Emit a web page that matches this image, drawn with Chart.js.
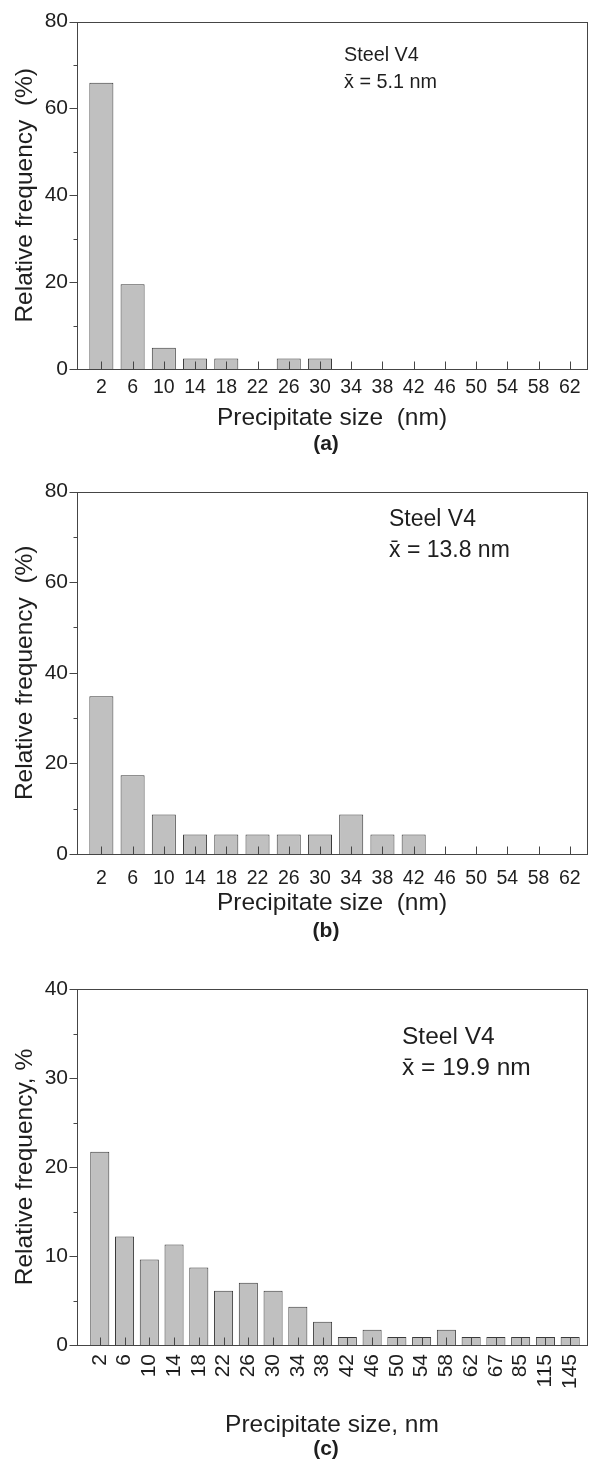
<!DOCTYPE html>
<html>
<head>
<meta charset="utf-8">
<script src="https://cdn.jsdelivr.net/npm/chart.js@4.4.1/dist/chart.umd.min.js"></script>
<style>
  body { margin: 0; background: #fff; }
  #page { position: relative; width: 593px; height: 1460px; overflow: hidden; font-family: 'Liberation Sans', Arial, sans-serif; color: #1e1e1e; }
  .panel { position: absolute; left: 0; width: 593px; }
  .tag { position: absolute; width: 100px; text-align: center; font-weight: bold; font-size: 21px; line-height: 22px; }
</style>
</head>
<body>
<div id="page">
  <div class="panel" style="top:0;height:440px"><canvas id="chartA"></canvas></div>
  <div class="tag" style="left:276px;top:432px">(a)</div>
  <div class="panel" style="top:470px;height:450px"><canvas id="chartB"></canvas></div>
  <div class="tag" style="left:276px;top:919px">(b)</div>
  <div class="panel" style="top:960px;height:480px"><canvas id="chartC"></canvas></div>
  <div class="tag" style="left:276px;top:1437px">(c)</div>
</div>
<script>
// --- data ---
const sizesAB = ['2', '6', '10', '14', '18', '22', '26', '30', '34', '38', '42', '46', '50', '54', '58', '62'];
const freqA = [65.9, 19.5, 4.9, 2.4, 2.4, 0, 2.4, 2.4, 0, 0, 0, 0, 0, 0, 0, 0];
const freqB = [34.8, 17.4, 8.7, 4.3, 4.3, 4.3, 4.3, 4.3, 8.7, 4.3, 4.3, 0, 0, 0, 0, 0];
const sizesC = ['2', '6', '10', '14', '18', '22', '26', '30', '34', '38', '42', '46', '50', '54', '58', '62', '67', '85', '115', '145'];
const freqC = [21.7, 12.2, 9.6, 11.3, 8.7, 6.1, 7.0, 6.1, 4.3, 2.6, 0.9, 1.7, 0.9, 0.9, 1.7, 0.9, 0.9, 0.9, 0.9, 0.9];

const FONT = "'Liberation Sans', Arial, sans-serif";
const INK = '#1e1e1e';
const AXIS = '#454545';

// frame box + tick marks (y outward, x inward)
const frameTicks = {
    id: 'frameTicks',
    afterDatasetsDraw(chart, args, opts) {
        const { ctx, chartArea: a, scales: { x, y } } = chart;
        ctx.save();
        ctx.strokeStyle = AXIS;
        ctx.lineWidth = 1;
        const l = Math.round(a.left) + 0.5, t = Math.round(a.top) + 0.5;
        const r = Math.round(a.right) + 0.5, b = Math.round(a.bottom) + 0.5;
        ctx.strokeRect(l, t, r - l, b - t);
        ctx.beginPath();
        y.ticks.forEach(tk => {
            const py = Math.round(y.getPixelForValue(tk.value)) + 0.5;
            const len = tk.value % opts.major === 0 ? 8 : 4;
            ctx.moveTo(l - len, py);
            ctx.lineTo(l, py);
        });
        x.ticks.forEach(tk => {
            const px = Math.round(x.getPixelForValue(tk.value)) + 0.5;
            ctx.moveTo(px, b);
            ctx.lineTo(px, b - 8);
        });
        ctx.stroke();
        ctx.restore();
    }
};

// "Steel V4 / x̄ = ..." note
const note = {
    id: 'note',
    afterDraw(chart, args, opts) {
        const ctx = chart.ctx;
        ctx.save();
        ctx.fillStyle = INK;
        ctx.font = opts.size + 'px ' + FONT;
        opts.lines.forEach((s, i) => ctx.fillText(s, opts.x, opts.y + i * opts.gap));
        ctx.restore();
    }
};

function makeChart(id, labels, values, p) {
    return new Chart(document.getElementById(id), {
        type: 'bar',
        data: {
            datasets: [{
                data: values.map((v, i) => ({ x: i, y: v })),
                backgroundColor: '#c0c0c0',
                borderColor: '#3a3a3a',
                borderWidth: 1,
                barPercentage: 0.77,
                categoryPercentage: 1
            }]
        },
        options: {
            responsive: true,
            maintainAspectRatio: false,
            animation: false,
            layout: { padding: { top: p.padTop, right: 6, left: 0, bottom: 0 } },
            plugins: {
                legend: { display: false },
                tooltip: { enabled: false },
                frameTicks: { major: p.major },
                note: p.note
            },
            scales: {
                x: {
                    type: 'linear',
                    offset: false,
                    min: p.xMin,
                    max: p.xMax,
                    grid: { display: false, drawTicks: false },
                    border: { display: false },
                    afterBuildTicks: s => { s.ticks = labels.map((_, i) => ({ value: i })); },
                    afterFit: s => {
                        s.height = p.xHeight;
                        s.paddingLeft = 0;
                        s.paddingRight = 0;
                    },
                    ticks: {
                        callback: v => labels[v],
                        autoSkip: false,
                        maxRotation: p.rot,
                        minRotation: p.rot,
                        padding: p.tickPad,
                        color: INK,
                        font: { family: FONT, size: p.tickSize }
                    },
                    title: {
                        display: true,
                        text: p.xTitle,
                        color: INK,
                        font: { family: FONT, size: 24.5 },
                        padding: { top: 0, bottom: p.titlePad }
                    }
                },
                y: {
                    min: 0,
                    max: p.yMax,
                    grid: { display: false, drawTicks: false },
                    border: { display: false },
                    afterFit: s => { s.width = 77; },
                    ticks: {
                        stepSize: p.minor,
                        callback: v => (v % p.major === 0 ? v : ''),
                        padding: 9,
                        color: INK,
                        font: { family: FONT, size: 21 }
                    },
                    title: {
                        display: true,
                        text: p.yTitle,
                        color: INK,
                        font: { family: FONT, size: 24.5 },
                        padding: { top: 11, bottom: 0 }
                    }
                }
            }
        },
        plugins: [frameTicks, note]
    });
}

makeChart('chartA', sizesAB, freqA, {
    padTop: 18, xHeight: 71, tickPad: 7, titlePad: 7.3, tickSize: 19.5, rot: 0,
    xMin: -0.78, xMax: 15.55, yMax: 80, major: 20, minor: 10,
    xTitle: 'Precipitate size  (nm)', yTitle: 'Relative frequency  (%)',
    note: { x: 344, y: 61, gap: 27, size: 19.8, lines: ['Steel V4', 'x\u0304 = 5.1 nm'] }
});

makeChart('chartB', sizesAB, freqB, {
    padTop: 19, xHeight: 66, tickPad: 13, titlePad: 2.3, tickSize: 19.5, rot: 0,
    xMin: -0.78, xMax: 15.55, yMax: 80, major: 20, minor: 10,
    xTitle: 'Precipitate size  (nm)', yTitle: 'Relative frequency  (%)',
    note: { x: 389, y: 56, gap: 31, size: 23, lines: ['Steel V4', 'x\u0304 = 13.8 nm'] }
});

makeChart('chartC', sizesC, freqC, {
    padTop: 29, xHeight: 95, tickPad: 9, titlePad: 0.3, tickSize: 21, rot: 90,
    xMin: -0.92, xMax: 19.68, yMax: 40, major: 10, minor: 5,
    xTitle: 'Precipitate size, nm', yTitle: 'Relative frequency, %',
    note: { x: 402, y: 84, gap: 31, size: 24.5, lines: ['Steel V4', 'x\u0304 = 19.9 nm'] }
});
</script>
</body>
</html>
